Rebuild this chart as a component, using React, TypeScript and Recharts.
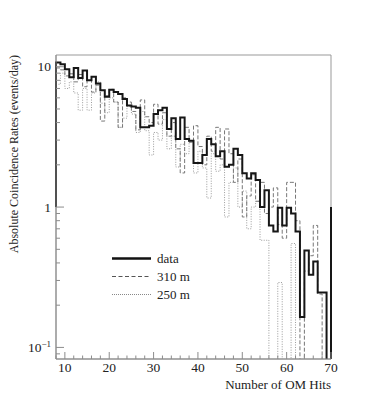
import { LineChart, Line, XAxis, YAxis, ReferenceArea } from 'recharts'

// lower edge of each 1-hit bin
const BIN_EDGES = [
  8, 9, 10, 11, 12, 13, 14, 15, 16, 17, 18, 19, 20, 21, 22, 23, 24, 25, 26, 27, 28,
  29, 30, 31, 32, 33, 34, 35, 36, 37, 38, 39, 40, 41, 42, 43, 44, 45, 46, 47, 48, 49,
  50, 51, 52, 53, 54, 55, 56, 57, 58, 59, 60, 61, 62, 63, 64, 65, 66, 67, 68, 69,
]

// empty bins sit below the axis floor
const EMPTY = 0.01

const DATA_RATES = [
  10.7, 10.4, 9.6, 8.4, 9.8, 8.3, 9.4, 8.0, 8.5, 7.6, 6.8, 6.1, 6.85, 6.6, 6.4, 5.9, 5.3, 5.2, 5.1, 3.7, 3.7,
  3.8, 4.6, 4.9, 5.1, 3.6, 4.3, 3.05, 4.35, 3.05, 2.97, 2.06, 2.06, 2.35, 3.05, 2.8, 2.3, 2.5, 1.94, 2.0, 2.6, 2.35,
  1.74, 1.6, 1.74, 1.56, 1.0, 1.32, 0.74, 0.67, 0.99, 0.74, 0.99, 0.9, 0.67, 0.165, 0.49, 0.33, 0.41, 0.246, 0.246, EMPTY,
]

const RATES_310 = [
  9.8, 9.5, 8.6, 8.9, 7.8, 8.8, 7.2, 8.0, 6.6, 7.4, 4.1, 6.2, 6.9, 5.6, 3.7, 6.0, 5.6, 4.8, 3.55, 5.8, 4.4,
  4.0, 5.4, 3.9, 4.7, 3.2, 4.0, 2.6, 1.75, 3.7, 2.9, 3.8, 2.7, 2.0, 3.2, 2.5, 3.7, 2.2, 3.6, 2.4, 1.5, 2.2,
  0.85, 1.2, 1.7, 1.1, 1.5, 0.9, 1.0, 1.37, 0.75, 0.6, 1.5, 1.5, 0.8, EMPTY, 0.35, 0.45, 0.74, 0.24, EMPTY, EMPTY,
]

const RATES_250 = [
  7.5, 9.0, 7.0, 7.8, 6.5, 4.9, 7.0, 4.9, 6.5, 7.8, 5.5, 4.7, 6.0, 5.6, 3.7, 4.3, 5.2, 4.6, 3.4, 4.8, 3.5,
  2.35, 3.4, 3.0, 4.2, 2.6, 3.2, 1.93, 2.8, 2.4, 2.9, 1.75, 2.5, 1.9, 1.16, 2.4, 1.8, 2.0, 0.85, 1.5, 1.9, 1.0,
  1.3, 0.7, 1.0, 1.1, 0.58, 0.58, EMPTY, EMPTY, 0.29, EMPTY, EMPTY, 0.55, EMPTY, EMPTY, EMPTY, EMPTY, EMPTY, EMPTY, EMPTY, EMPTY,
]

// outer edges of the data histogram as ROOT drew them
const DATA_LEFT_EDGE = 1
const DATA_RIGHT_EDGE = 1

const X_TICKS = [8, 10, 12, 14, 16, 18, 20, 22, 24, 26, 28, 30, 32, 34, 36, 38, 40, 42, 44, 46, 48, 50, 52, 54, 56, 58, 60, 62, 64, 66, 68, 70]
const X_LABELS = [10, 20, 30, 40, 50, 60, 70]
const Y_TICKS = [0.09, 0.1, 0.2, 0.3, 0.4, 0.5, 0.6, 0.7, 0.8, 0.9, 1, 2, 3, 4, 5, 6, 7, 8, 9, 10]
const Y_DOMAIN = [0.0827, 12.12]

const FONT = '"Liberation Serif", "DejaVu Serif", serif'
const AXIS_GRAY = '#8c8c8c'

const LAST = BIN_EDGES.length - 1
const rows = [
  { x: BIN_EDGES[0], data: DATA_LEFT_EDGE },
  ...BIN_EDGES.map((x, i) => ({ x, data: DATA_RATES[i], m310: RATES_310[i], m250: RATES_250[i] })),
  { x: 70, data: DATA_RIGHT_EDGE, m310: RATES_310[LAST], m250: RATES_250[LAST] },
]

function XTick({ x, y, payload }: any) {
  const major = X_LABELS.includes(payload.value)
  return (
    <g>
      <line x1={x} x2={x} y1={y} y2={y - (major ? 7 : 3.5)} stroke={AXIS_GRAY} />
      {major && (
        <text x={x} y={y + 13} textAnchor="middle" fontFamily={FONT} fontSize={13.5} fill="#222">
          {payload.value}
        </text>
      )}
    </g>
  )
}

function YTick({ x, y, payload }: any) {
  const v = payload.value
  const major = v === 0.1 || v === 1 || v === 10
  return (
    <g>
      <line x1={x} x2={x + (major ? 8 : 4)} y1={y} y2={y} stroke={AXIS_GRAY} />
      {major && (
        <text x={x - 5} y={y + 4.5} textAnchor="end" fontFamily={FONT} fontSize={13.5} fill="#222">
          {v === 0.1 ? (
            <>
              10
              <tspan dy={-5} fontSize={9}>
                −1
              </tspan>
            </>
          ) : (
            v
          )}
        </text>
      )}
    </g>
  )
}

const LEGEND = [
  { label: 'data', stroke: '#111', width: 2.5, dash: undefined },
  { label: '310 m', stroke: '#555', width: 1, dash: '4 2.5' },
  { label: '250 m', stroke: '#888', width: 1, dash: '1 1' },
]

export default function App() {
  return (
    <div style={{ position: 'absolute', left: 0, top: 0, width: 388, height: 415, background: '#fff' }}>
      <LineChart width={388} height={415} data={rows} margin={{ top: 55, right: 57, bottom: 0, left: 0 }}>
        <ReferenceArea x1={8} x2={70} y1={Y_DOMAIN[0]} y2={Y_DOMAIN[1]} fill="none" stroke="#999" />
        <XAxis
          dataKey="x"
          type="number"
          domain={[8, 70]}
          ticks={X_TICKS}
          interval={0}
          height={56}
          tickSize={0}
          tickMargin={0}
          tickLine={false}
          axisLine={{ stroke: AXIS_GRAY }}
          tick={<XTick />}
          label={{
            content: ({ viewBox }: any) => (
              <text
                x={viewBox.x + viewBox.width}
                y={viewBox.y + 30}
                textAnchor="end"
                fontFamily={FONT}
                fontSize={13}
                fill="#222"
              >
                Number of OM Hits
              </text>
            ),
          }}
        />
        <YAxis
          type="number"
          scale="log"
          domain={Y_DOMAIN}
          allowDataOverflow
          ticks={Y_TICKS}
          interval={0}
          width={56}
          tickSize={0}
          tickMargin={0}
          tickLine={false}
          axisLine={{ stroke: AXIS_GRAY }}
          tick={<YTick />}
          label={{
            content: ({ viewBox }: any) => (
              <text
                transform={`translate(${viewBox.x + 18},${viewBox.y}) rotate(-90)`}
                textAnchor="end"
                fontFamily={FONT}
                fontSize={12}
                fill="#222"
              >
                Absolute Coincidence Rates (events/day)
              </text>
            ),
          }}
        />
        <Line
          type="stepAfter"
          dataKey="m250"
          stroke="#9a9a9a"
          strokeWidth={1}
          strokeDasharray="1 1.5"
          dot={false}
          isAnimationActive={false}
        />
        <Line
          type="stepAfter"
          dataKey="m310"
          stroke="#777"
          strokeWidth={1}
          strokeDasharray="4 2"
          dot={false}
          isAnimationActive={false}
        />
        <Line
          type="stepAfter"
          dataKey="data"
          stroke="#161616"
          strokeWidth={2}
          dot={false}
          isAnimationActive={false}
        />
      </LineChart>
      <svg width={388} height={415} style={{ position: 'absolute', left: 0, top: 0, pointerEvents: 'none' }}>
        {LEGEND.map((item, i) => (
          <g key={item.label}>
            <line
              x1={112}
              x2={151}
              y1={258.5 + i * 18}
              y2={258.5 + i * 18}
              stroke={item.stroke}
              strokeWidth={item.width}
              strokeDasharray={item.dash}
            />
            <text x={157} y={263 + i * 18} fontFamily={FONT} fontSize={13} fill="#222">
              {item.label}
            </text>
          </g>
        ))}
      </svg>
    </div>
  )
}
